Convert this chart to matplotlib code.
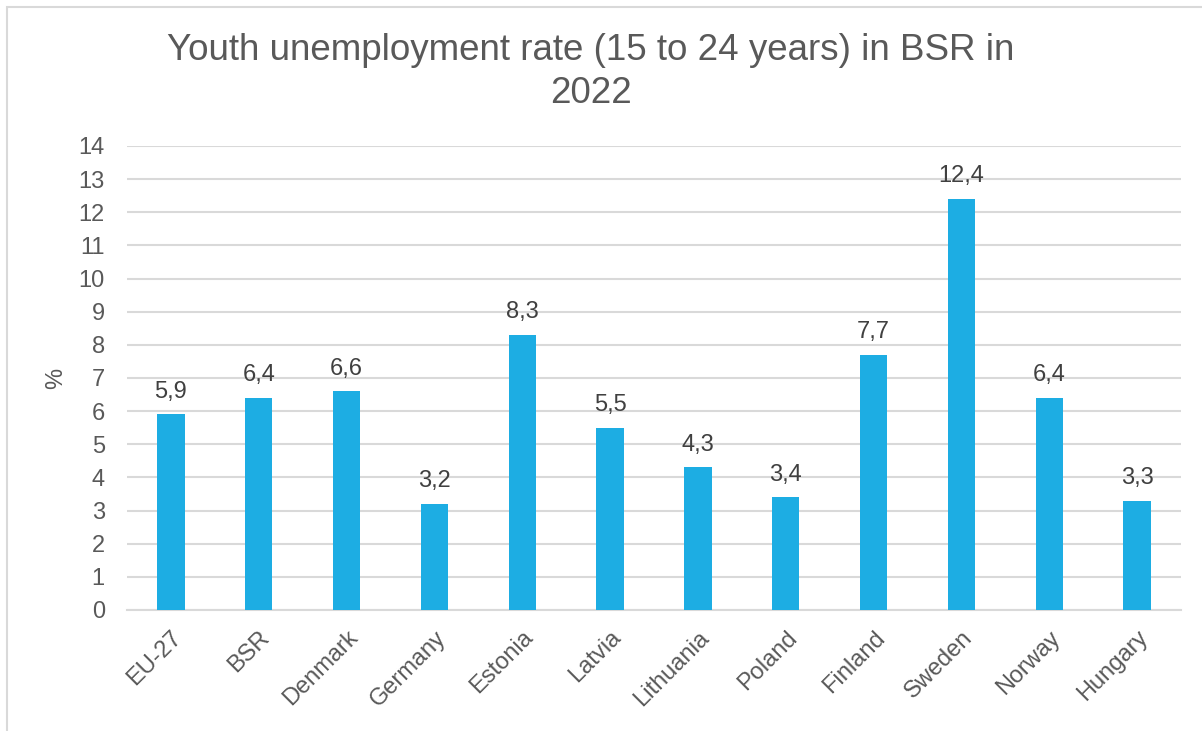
import numpy as np
import matplotlib.pyplot as plt
from matplotlib.patches import Rectangle

countries = ['EU-27', 'BSR', 'Denmark', 'Germany', 'Estonia', 'Latvia',
             'Lithuania', 'Poland', 'Finland', 'Sweden', 'Norway', 'Hungary']
rates = [5.9, 6.4, 6.6, 3.2, 8.3, 5.5, 4.3, 3.4, 7.7, 12.4, 6.4, 3.3]
y_ticks = list(range(0, 15))

plt.rcParams['font.family'] = ['Liberation Sans', 'DejaVu Sans']

BAR_COLOR = '#1DADE3'
TEXT_COLOR = '#595959'
GRID_COLOR = '#D9D9D9'

fig = plt.figure(figsize=(12.02, 7.31), dpi=100)
ax = fig.add_axes([127 / 1202, 1 - 610 / 731, (1181 - 127) / 1202, (610 - 146) / 731])

x = np.arange(len(countries))
ax.bar(x, rates, width=0.31, color=BAR_COLOR, zorder=3)
for xi, v in zip(x, rates):
    ax.text(xi, v + 0.35, f'{v:.1f}'.replace('.', ','), ha='center', va='bottom',
            fontsize=17, color='#404040')

ax.set_xlim(-0.5, len(countries) - 0.5)
ax.set_ylim(0, 14)
ax.set_yticks(y_ticks)
ax.yaxis.grid(True, color=GRID_COLOR, linewidth=1.5, zorder=0)
for s in ['top', 'right', 'left']:
    ax.spines[s].set_visible(False)
ax.spines['bottom'].set_color(GRID_COLOR)
ax.spines['bottom'].set_linewidth(1.5)
ax.tick_params(axis='both', length=0, labelsize=17, labelcolor=TEXT_COLOR)
ax.tick_params(axis='y', pad=16)
ax.tick_params(axis='x', pad=12)
ax.set_xticks(x)
ax.set_xticklabels(countries, rotation=45, ha='right', rotation_mode='anchor')
ax.set_ylabel('%', fontsize=17, color=TEXT_COLOR, labelpad=8)

fig.text(591 / 1202, 1 - 72 / 731, 'Youth unemployment rate (15 to 24 years) in BSR in\n2022',
         ha='center', va='center', fontsize=26.5, color=TEXT_COLOR, linespacing=1.3)

fig.patches.append(Rectangle((7 / 1202, -0.1), 1.2, 1.1 - 7 / 731, transform=fig.transFigure,
                             fill=False, edgecolor=GRID_COLOR, linewidth=1.5))

fig.savefig('out.png', dpi=100)
